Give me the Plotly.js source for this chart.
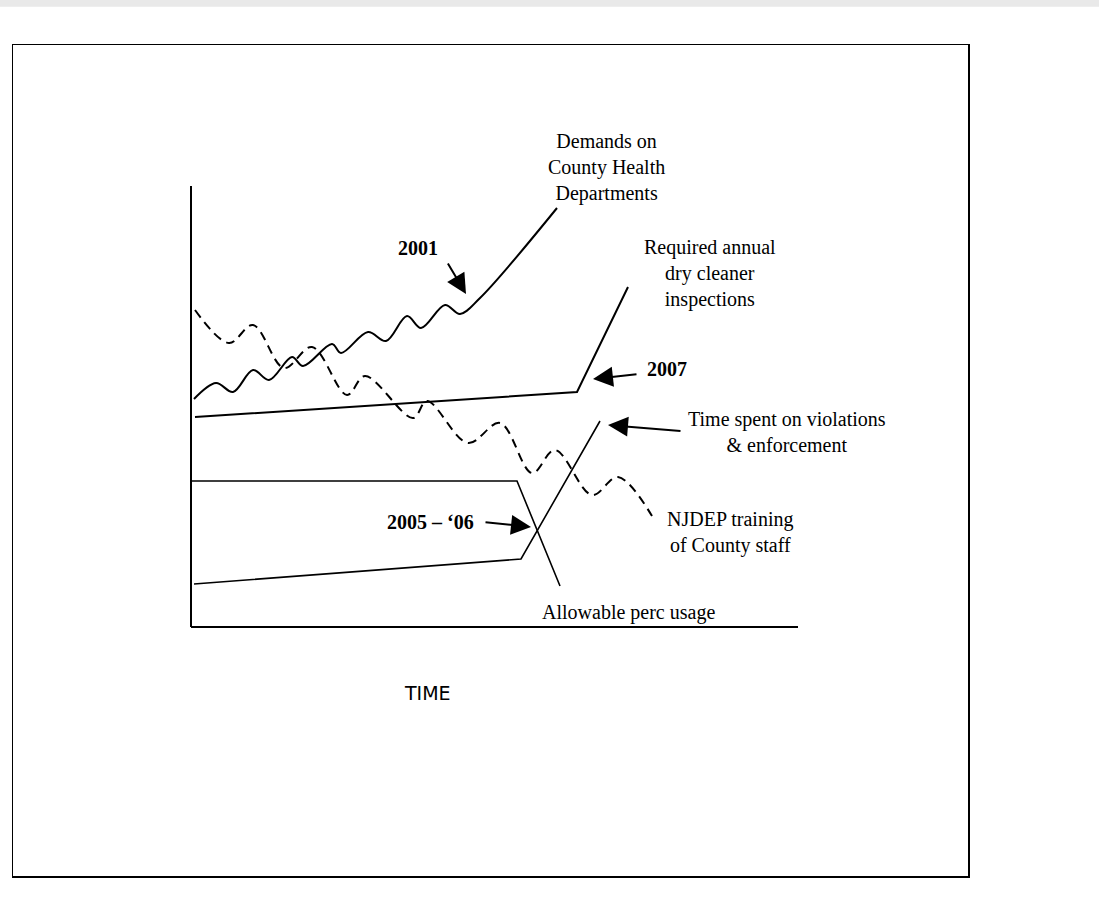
<!DOCTYPE html>
<html>
<head>
<meta charset="utf-8">
<script src="https://cdn.plot.ly/plotly-3.0.1.min.js"></script>
<style>html,body{margin:0;padding:0;background:#fff;}#chart{width:1099px;height:910px;}</style>
</head>
<body>
<div id="chart"></div>
<script>
// Conceptual trend lines (x = time, y = level; origin at the axes corner)
const demandsX  = [3, 25, 42, 62, 78, 101, 112, 141, 150, 177, 195, 216, 230, 254, 269, 289, 366];
const demandsY  = [228, 244, 235, 257, 247, 270, 261, 283, 274, 295, 286, 311, 299, 322, 313, 329, 419];

const trainingX = [4, 38, 62, 93, 121, 156, 174, 222, 236, 277, 309, 341, 364, 401, 427, 461];
const trainingY = [317, 284, 302, 259, 280, 232, 251, 209, 226, 184, 204, 154, 177, 132, 150, 111];

const inspectX  = [4, 386, 437];
const inspectY  = [210, 235, 340];

const percX     = [1, 326, 369];
const percY     = [146, 146, 41];

const violX     = [3, 330, 409];
const violY     = [43, 68, 206];

const axisXEnd  = 607;
const axisYEnd  = 441;

// Labels
const labels = [
  {text: 'Demands on<br>County Health<br>Departments', x: 415, y: 460},
  {text: 'Required annual<br>dry cleaner<br>inspections', x: 519, y: 354},
  {text: 'Time spent on violations<br>&amp; enforcement', x: 596, y: 195},
  {text: 'NJDEP training<br>of County staff', x: 539, y: 95},
  {text: 'Allowable perc usage', x: 437, y: 15}
];
const yearLabels = [
  {text: '2001', x: 227, y: 379},
  {text: '2007', x: 476, y: 258},
  {text: '2005 – ‘06', x: 239, y: 105}
];
// arrows: [tipX, tipY, tailX, tailY]
const arrows = [
  [275, 333, 256, 365],
  [402, 248, 447, 253],
  [417, 202, 491, 196],
  [340, 100, 293, 105]
];

const serif = 'Liberation Serif, Times New Roman, serif';
const base = {mode: 'lines', hoverinfo: 'skip', showlegend: false};

const traces = [
  Object.assign({x: demandsX, y: demandsY, line: {color: '#000', width: 2, shape: 'spline', smoothing: 1}}, base),
  Object.assign({x: trainingX, y: trainingY, line: {color: '#000', width: 2, shape: 'spline', smoothing: 1, dash: '9px,6px'}}, base),
  Object.assign({x: inspectX, y: inspectY, line: {color: '#000', width: 2}}, base),
  Object.assign({x: percX, y: percY, line: {color: '#000', width: 1.6}}, base),
  Object.assign({x: violX, y: violY, line: {color: '#000', width: 1.6}}, base)
];

const annotations = [];
labels.forEach(l => annotations.push({
  x: l.x, y: l.y, xref: 'x', yref: 'y', text: l.text, showarrow: false,
  font: {family: serif, size: 20, color: '#000'}, align: 'center'
}));
yearLabels.forEach(l => annotations.push({
  x: l.x, y: l.y, xref: 'x', yref: 'y', text: '<b>' + l.text + '</b>', showarrow: false,
  font: {family: serif, size: 20, color: '#000'}
}));
arrows.forEach(a => annotations.push({
  x: a[0], y: a[1], ax: a[2], ay: a[3], xref: 'x', yref: 'y', axref: 'x', ayref: 'y',
  text: '', showarrow: true, arrowhead: 2, arrowsize: 2, arrowwidth: 2, arrowcolor: '#000'
}));
annotations.push({
  x: 236, y: -66, xref: 'x', yref: 'y', text: 'TIME', showarrow: false,
  font: {family: 'DejaVu Sans, sans-serif', size: 19, color: '#000'}
});

const layout = {
  width: 1099, height: 910,
  margin: {l: 13, r: 131, t: 45, b: 34, pad: 0},
  paper_bgcolor: '#fff', plot_bgcolor: '#fff',
  showlegend: false,
  xaxis: {range: [-178, 777], showgrid: false, zeroline: false, showticklabels: false, ticks: '',
          showline: true, mirror: true, linecolor: '#000', linewidth: 1.5, fixedrange: true},
  yaxis: {range: [-249, 582], showgrid: false, zeroline: false, showticklabels: false, ticks: '',
          showline: true, mirror: true, linecolor: '#000', linewidth: 1.5, fixedrange: true},
  shapes: [
    {type: 'line', xref: 'x', yref: 'y', x0: 0, y0: 0, x1: 0, y1: axisYEnd, line: {color: '#000', width: 2}},
    {type: 'line', xref: 'x', yref: 'y', x0: 0, y0: 0, x1: axisXEnd, y1: 0, line: {color: '#000', width: 2}},
    {type: 'rect', xref: 'paper', yref: 'paper', x0: -0.02, x1: 1.2, y0: 1.046, y1: 1.06,
     fillcolor: '#e9e9e9', line: {width: 0}, layer: 'below'}
  ],
  annotations: annotations
};

Plotly.newPlot('chart', traces, layout, {staticPlot: true, displayModeBar: false});
</script>
</body>
</html>
